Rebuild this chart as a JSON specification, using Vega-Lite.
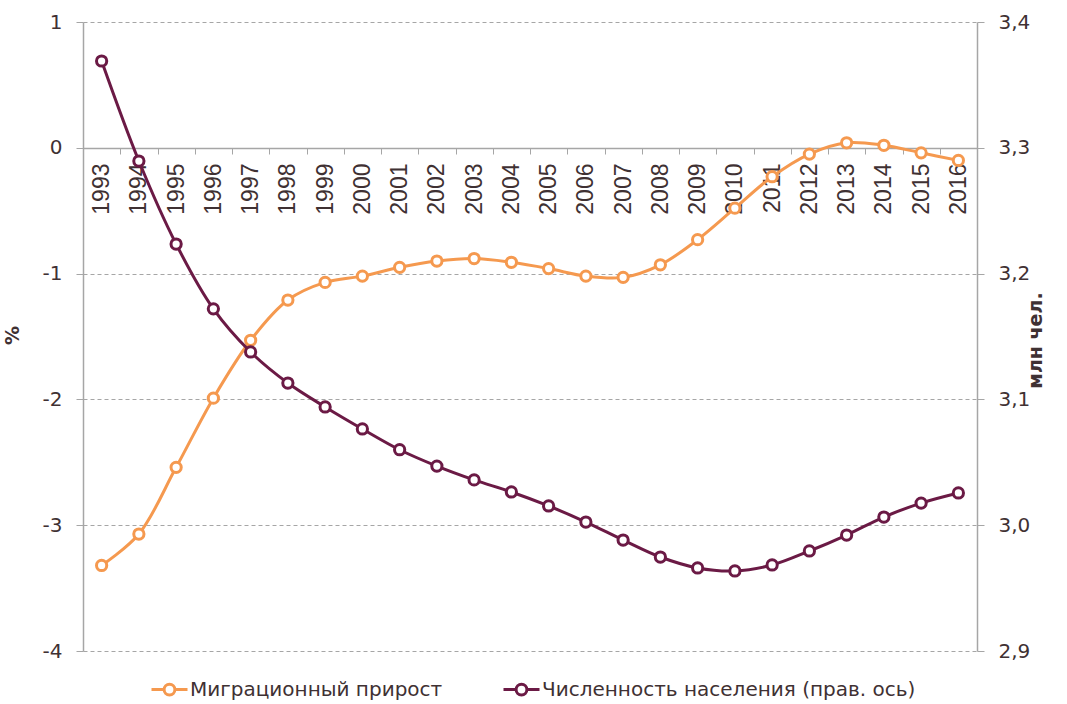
{
  "$schema": "https://vega.github.io/schema/vega-lite/v6.json",
  "width": 894,
  "height": 629,
  "autosize": {"type": "none"},
  "padding": {"left": 83, "top": 22, "right": 90, "bottom": 53},
  "background": "white",
  "config": {
    "locale": {"number": {"decimal": ",", "thousands": " ", "grouping": [3], "currency": ["", ""], "minus": "-"}},
    "view": {"stroke": null},
    "font": "DejaVu Sans",
    "axis": {"labelColor": "#3F3133", "titleColor": "#3F3133", "domainColor": "#A6A6A6", "tickColor": "#A6A6A6", "gridColor": "#A6A6A6", "gridDash": [4, 3]}
  },
  "data": {"values": [
    {"year": "1993", "series": "Миграционный прирост", "value": -3.32},
    {"year": "1994", "series": "Миграционный прирост", "value": -3.07},
    {"year": "1995", "series": "Миграционный прирост", "value": -2.54},
    {"year": "1996", "series": "Миграционный прирост", "value": -1.99},
    {"year": "1997", "series": "Миграционный прирост", "value": -1.53},
    {"year": "1998", "series": "Миграционный прирост", "value": -1.21},
    {"year": "1999", "series": "Миграционный прирост", "value": -1.07},
    {"year": "2000", "series": "Миграционный прирост", "value": -1.02},
    {"year": "2001", "series": "Миграционный прирост", "value": -0.95},
    {"year": "2002", "series": "Миграционный прирост", "value": -0.90},
    {"year": "2003", "series": "Миграционный прирост", "value": -0.88},
    {"year": "2004", "series": "Миграционный прирост", "value": -0.91},
    {"year": "2005", "series": "Миграционный прирост", "value": -0.96},
    {"year": "2006", "series": "Миграционный прирост", "value": -1.02},
    {"year": "2007", "series": "Миграционный прирост", "value": -1.03},
    {"year": "2008", "series": "Миграционный прирост", "value": -0.93},
    {"year": "2009", "series": "Миграционный прирост", "value": -0.73},
    {"year": "2010", "series": "Миграционный прирост", "value": -0.48},
    {"year": "2011", "series": "Миграционный прирост", "value": -0.23},
    {"year": "2012", "series": "Миграционный прирост", "value": -0.05},
    {"year": "2013", "series": "Миграционный прирост", "value": 0.04},
    {"year": "2014", "series": "Миграционный прирост", "value": 0.02},
    {"year": "2015", "series": "Миграционный прирост", "value": -0.04},
    {"year": "2016", "series": "Миграционный прирост", "value": -0.10},
    {"year": "1993", "series": "Численность населения (прав. ось)", "value": 3.369},
    {"year": "1994", "series": "Численность населения (прав. ось)", "value": 3.2895},
    {"year": "1995", "series": "Численность населения (прав. ось)", "value": 3.2235},
    {"year": "1996", "series": "Численность населения (прав. ось)", "value": 3.172},
    {"year": "1997", "series": "Численность населения (прав. ось)", "value": 3.1377},
    {"year": "1998", "series": "Численность населения (прав. ось)", "value": 3.113},
    {"year": "1999", "series": "Численность населения (прав. ось)", "value": 3.094},
    {"year": "2000", "series": "Численность населения (прав. ось)", "value": 3.0765},
    {"year": "2001", "series": "Численность населения (прав. ось)", "value": 3.060},
    {"year": "2002", "series": "Численность населения (прав. ось)", "value": 3.047},
    {"year": "2003", "series": "Численность населения (прав. ось)", "value": 3.036},
    {"year": "2004", "series": "Численность населения (прав. ось)", "value": 3.0264},
    {"year": "2005", "series": "Численность населения (прав. ось)", "value": 3.0153},
    {"year": "2006", "series": "Численность населения (прав. ось)", "value": 3.0025},
    {"year": "2007", "series": "Численность населения (прав. ось)", "value": 2.9882},
    {"year": "2008", "series": "Численность населения (прав. ось)", "value": 2.9747},
    {"year": "2009", "series": "Численность населения (прав. ось)", "value": 2.966},
    {"year": "2010", "series": "Численность населения (прав. ось)", "value": 2.9636},
    {"year": "2011", "series": "Численность населения (прав. ось)", "value": 2.9684},
    {"year": "2012", "series": "Численность населения (прав. ось)", "value": 2.9795},
    {"year": "2013", "series": "Численность населения (прав. ось)", "value": 2.9922},
    {"year": "2014", "series": "Численность населения (прав. ось)", "value": 3.0065},
    {"year": "2015", "series": "Численность населения (прав. ось)", "value": 3.0176},
    {"year": "2016", "series": "Численность населения (прав. ось)", "value": 3.0256}
  ]},
  "encoding": {
    "x": {
      "field": "year", "type": "ordinal",
      "scale": {"type": "band", "paddingInner": 0, "paddingOuter": 0},
      "axis": {
        "title": null, "offset": -503, "labelAngle": -90, "labelAlign": "right", "labelBaseline": "middle",
        "labelFont": "Liberation Sans", "labelFontSize": 23, "labelPadding": 9, "tickBand": "extent", "tickSize": 6,
        "domainColor": "#A6A6A6", "domainWidth": 1.5, "labelColor": "#3F3133", "grid": false
      }
    },
    "color": {
      "field": "series", "type": "nominal",
      "scale": {"domain": ["Миграционный прирост", "Численность населения (прав. ось)"], "range": ["#F5994F", "#6B1A45"]},
      "legend": {
        "title": null, "orient": "none", "direction": "horizontal", "legendX": 67, "legendY": 648,
        "symbolType": "M-1,0L-0.3,0M0.3,0L1,0M-0.3,0A0.3,0.3 0 1,0 0.3,0A0.3,0.3 0 1,0 -0.3,0",
        "symbolSize": 1296, "symbolStrokeWidth": 3, "labelFontSize": 20, "labelColor": "#3F3133",
        "labelOffset": 1, "columnPadding": 54, "labelLimit": 500,
        "encode": {"symbols": {"update": {"fill": {"value": "white"}, "fillOpacity": {"value": 1}, "strokeWidth": {"value": 3}}}}
      }
    }
  },
  "layer": [
    {
      "transform": [{"filter": "datum.series === 'Миграционный прирост'"}],
      "mark": {"type": "line", "interpolate": "catmull-rom", "strokeWidth": 3,
        "point": {"filled": false, "fill": "white", "size": 105, "strokeWidth": 3, "opacity": 1}},
      "encoding": {
        "y": {"field": "value", "type": "quantitative",
          "scale": {"domain": [-4, 1], "nice": false, "zero": false},
          "axis": {"orient": "left", "values": [-4, -3, -2, -1, 0, 1], "format": "d", "title": "%",
            "titleFontSize": 19, "titleFontWeight": "bold", "titleX": -61, "titleY": 313,
            "labelFontSize": 20, "labelPadding": 14, "tickSize": 7, "domainWidth": 1.5, "grid": true}}
      }
    },
    {
      "transform": [{"filter": "datum.series !== 'Миграционный прирост'"}],
      "mark": {"type": "line", "interpolate": "catmull-rom", "strokeWidth": 3,
        "point": {"filled": false, "fill": "white", "size": 105, "strokeWidth": 3, "opacity": 1}},
      "encoding": {
        "y": {"field": "value", "type": "quantitative",
          "scale": {"domain": [2.9, 3.4], "nice": false, "zero": false},
          "axis": {"orient": "right", "values": [2.9, 3.0, 3.1, 3.2, 3.3, 3.4], "format": ".1f", "title": "млн чел.",
            "titleFontSize": 19, "titleFontWeight": "bold", "titleAngle": 270, "titleX": 68, "titleY": 318,
            "labelFontSize": 20, "labelPadding": 14, "tickSize": 7, "domainWidth": 1.5, "grid": false}}
      }
    }
  ],
  "resolve": {"scale": {"y": "independent"}}
}
